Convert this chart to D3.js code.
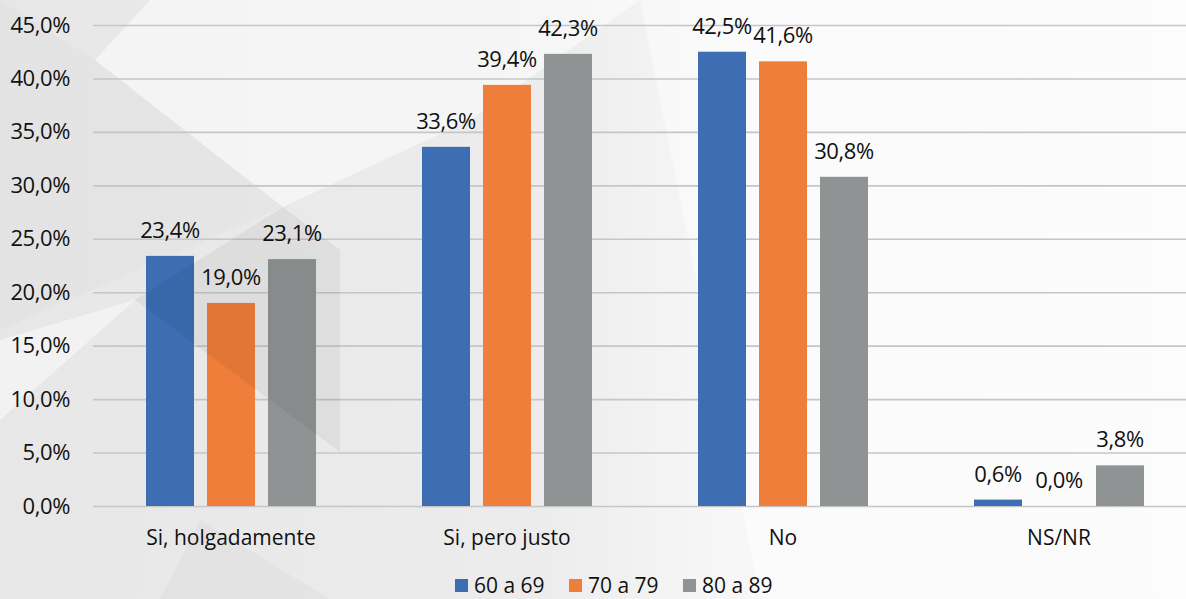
<!DOCTYPE html>
<html>
<head>
<meta charset="utf-8">
<script src="https://cdn.jsdelivr.net/npm/d3@7"></script>
<style>
  html, body { margin: 0; padding: 0; background: #f5f5f5; }
  svg { display: block; font-family: "Open Sans", sans-serif; }
</style>
</head>
<body>
<div id="chart"></div>
<script>
// data
const categories = ["Si, holgadamente", "Si, pero justo", "No", "NS/NR"];
const seriesNames = ["60 a 69", "70 a 79", "80 a 89"];
const s60 = [23.4, 33.6, 42.5, 0.6];
const s70 = [19.0, 39.4, 41.6, 0.0];
const s80 = [23.1, 42.3, 30.8, 3.8];
const yTicks = [0, 5, 10, 15, 20, 25, 30, 35, 40, 45];
const colors = ["#3d6eb4", "#ee7e39", "#909394"];

const W = 1186, H = 599;
const margin = {top: 25, left: 93, bottom: 93};
const plotW = 276 * categories.length;

const svg = d3.select("#chart").append("svg")
  .attr("width", W).attr("height", H);

// decorative background, roughly like the slide behind the chart
const bg = svg.append("g");
const grad = svg.append("defs").append("linearGradient")
  .attr("id", "bgGrad").attr("x1", 0).attr("x2", 1).attr("y1", 0).attr("y2", 0);
grad.append("stop").attr("offset", "0%").attr("stop-color", "#e7e7e7");
grad.append("stop").attr("offset", "45%").attr("stop-color", "#ececec");
grad.append("stop").attr("offset", "62%").attr("stop-color", "#f7f7f7");
grad.append("stop").attr("offset", "100%").attr("stop-color", "#f9f9f9");
bg.append("rect").attr("width", W).attr("height", H).attr("fill", "url(#bgGrad)");
const shapes = [
  {pts: [[95, 60], [283, 207], [470, 120], [640, 0], [150, 0]], fill: "#ffffff", op: 0.5},
  {pts: [[0, 0], [95, 60], [283, 207], [0, 330]], fill: "#000000", op: 0.015},
  {pts: [[0, 340], [135, 300], [0, 420]], fill: "#ffffff", op: 0.45},
  {pts: [[200, 520], [330, 599], [160, 599]], fill: "#000000", op: 0.025},
  {pts: [[640, 0], [1186, 0], [1186, 599], [760, 599], [700, 300]], fill: "#ffffff", op: 0.45}
];
shapes.forEach(s => {
  bg.append("polygon")
    .attr("points", s.pts.map(p => p.join(",")).join(" "))
    .attr("fill", s.fill).attr("opacity", s.op);
});

const y = d3.scaleLinear().domain([0, 45]).range([H - margin.bottom, margin.top]);
const x0 = d3.scaleBand().domain(categories)
  .range([margin.left, margin.left + plotW])
  .paddingInner(106 / 276).paddingOuter(53 / 276);
const x1 = d3.scaleBand().domain(seriesNames)
  .range([0, x0.bandwidth()]).paddingInner(13 / 61).paddingOuter(0);

const fmt = v => d3.format(".1f")(v).replace(".", ",") + "%";

// gridlines + tick labels
const yAxis = svg.append("g")
  .attr("transform", `translate(${margin.left},0)`)
  .call(d3.axisLeft(y).tickValues(yTicks).tickSize(-(W - margin.left)).tickFormat(fmt).tickPadding(23));
yAxis.select(".domain").remove();
yAxis.selectAll(".tick line").attr("stroke", "#c6c6c6").attr("stroke-width", 1.6);
yAxis.selectAll(".tick text")
  .attr("font-family", "Open Sans").attr("font-size", 22).attr("letter-spacing", -0.4)
  .attr("fill", "#111");

// bars
const table = categories.map((c, i) => ({cat: c, vals: [s60[i], s70[i], s80[i]]}));
const groups = svg.append("g").selectAll("g").data(table).join("g")
  .attr("transform", d => `translate(${x0(d.cat)},0)`);
groups.selectAll("rect")
  .data(d => d.vals.map((v, j) => ({key: seriesNames[j], v, j})))
  .join("rect")
  .attr("x", d => x1(d.key))
  .attr("y", d => y(d.v))
  .attr("width", x1.bandwidth())
  .attr("height", d => y(0) - y(d.v))
  .attr("fill", d => colors[d.j]);
groups.selectAll("text")
  .data(d => d.vals.map((v, j) => ({key: seriesNames[j], v, j})))
  .join("text")
  .attr("x", d => x1(d.key) + x1.bandwidth() / 2)
  .attr("y", d => y(d.v) - 18)
  .attr("text-anchor", "middle")
  .attr("font-size", 22).attr("letter-spacing", -0.4).attr("fill", "#111")
  .text(d => fmt(d.v));

// shading of the slide that falls over the first group
svg.append("polygon")
  .attr("points", [[135, 300], [283, 207], [340, 250], [340, 452]].map(p => p.join(",")).join(" "))
  .attr("fill", "#000").attr("opacity", 0.05);

// category labels
svg.append("g").selectAll("text").data(categories).join("text")
  .attr("x", d => x0(d) + x0.bandwidth() / 2)
  .attr("y", 545)
  .attr("text-anchor", "middle")
  .attr("font-size", 21).attr("fill", "#111")
  .text(d => d);

// legend
const legendX = [455, 569, 683];
const legend = svg.append("g").selectAll("g").data(seriesNames).join("g")
  .attr("transform", (d, i) => `translate(${legendX[i]},579)`);
legend.append("rect").attr("width", 13).attr("height", 13)
  .attr("fill", (d, i) => colors[i]);
legend.append("text").attr("x", 19).attr("y", 14)
  .attr("font-size", 21).attr("fill", "#111")
  .text(d => d);
</script>
</body>
</html>
